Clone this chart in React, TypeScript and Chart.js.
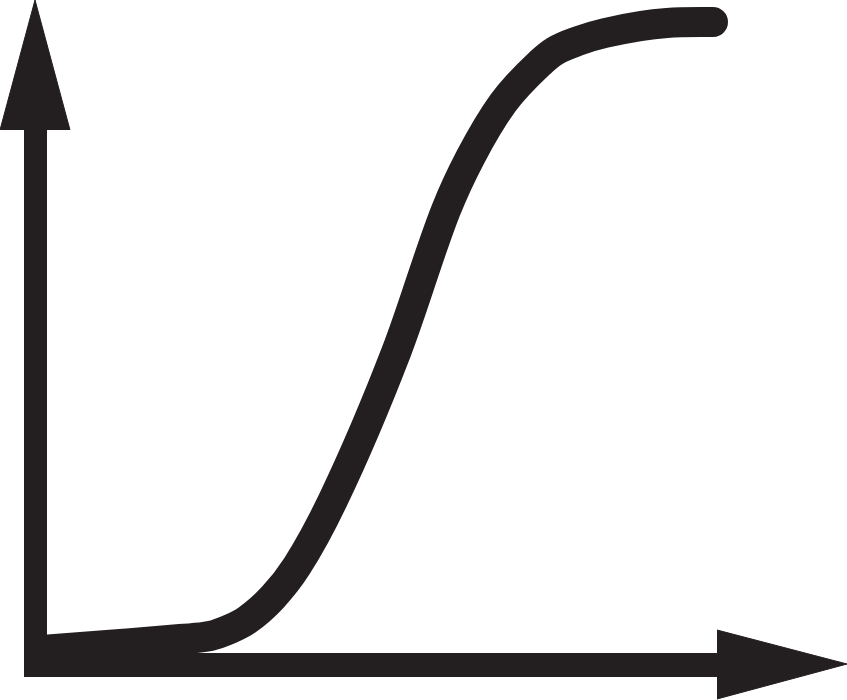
import React, { useEffect, useRef } from "react";
import { Chart, registerables } from "chart.js";

Chart.register(...registerables);

// S-curve centre line (x, y in picture units, y measured downward)
const curveX = [42, 120, 180, 210, 230, 247, 273, 297, 333, 397, 446, 470, 503, 540, 555, 578, 605, 667, 713];
const curveY = [650, 644, 639, 636, 629, 620, 597, 566, 500, 350, 210, 158, 103, 63, 51, 41, 33, 23, 22];

// vertical axis shaft and arrowhead
const vShaftX = [35.5, 35.5];
const vShaftY = [120, 677];
const vHeadX = [0, 35, 70];
const vHeadY = [130, 0, 130];
const vHeadBase = 130;

// horizontal axis shaft and arrowhead
const hShaftX = [24, 722];
const hShaftY = [665, 665];
const hHeadTopX = [717, 847];
const hHeadTopY = [630, 664];
const hHeadBotX = [717, 847];
const hHeadBotY = [699, 664];
const hHeadBase = 664;

const INK = "#231f20";

const pts = (xs: number[], ys: number[]) => xs.map((x, i) => ({ x, y: ys[i] }));

export default function App() {
  const ref = useRef<HTMLCanvasElement | null>(null);

  useEffect(() => {
    document.body.style.margin = "0";
    const canvas = ref.current;
    if (!canvas) return;
    const base = {
      pointRadius: 0,
      pointHoverRadius: 0,
      borderColor: INK,
      backgroundColor: INK,
      clip: false as any,
      showLine: true,
    };
    const chart = new Chart(canvas, {
      type: "scatter",
      data: {
        datasets: [
          {
            ...base,
            label: "curve",
            data: pts(curveX, curveY),
            borderWidth: 30,
            borderCapStyle: "round",
            borderJoinStyle: "round",
            cubicInterpolationMode: "monotone",
            fill: false,
          },
          {
            ...base,
            label: "y-axis",
            data: pts(vShaftX, vShaftY),
            borderWidth: 23,
            borderCapStyle: "butt",
            fill: false,
          },
          {
            ...base,
            label: "x-axis",
            data: pts(hShaftX, hShaftY),
            borderWidth: 24,
            borderCapStyle: "butt",
            fill: false,
          },
          {
            ...base,
            label: "y-head",
            data: pts(vHeadX, vHeadY),
            borderWidth: 1,
            fill: { value: vHeadBase },
          },
          {
            ...base,
            label: "x-head-top",
            data: pts(hHeadTopX, hHeadTopY),
            borderWidth: 1,
            fill: { value: hHeadBase },
          },
          {
            ...base,
            label: "x-head-bottom",
            data: pts(hHeadBotX, hHeadBotY),
            borderWidth: 1,
            fill: { value: hHeadBase },
          },
        ] as any,
      },
      options: {
        responsive: false,
        animation: false,
        layout: { padding: 0, autoPadding: false },
        plugins: {
          legend: { display: false },
          tooltip: { enabled: false },
          title: { display: false },
        },
        events: [],
        scales: {
          x: { type: "linear", min: 0, max: 847, display: false },
          y: { type: "linear", min: 0, max: 700, reverse: true, display: false },
        },
      } as any,
    });
    return () => chart.destroy();
  }, []);

  return (
    <div style={{ width: 847, height: 700, background: "#ffffff" }}>
      <canvas ref={ref} width={847} height={700} style={{ display: "block" }} />
    </div>
  );
}
